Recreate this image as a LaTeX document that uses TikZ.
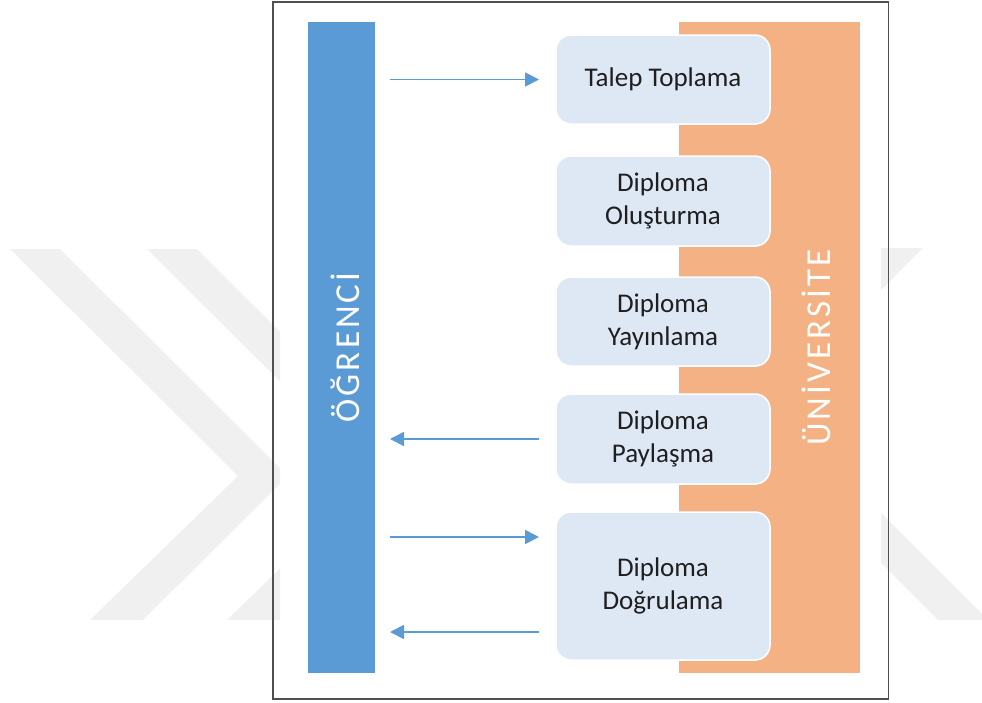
\documentclass[tikz,border=0pt]{standalone}
\usepackage{fontspec}
\setmainfont{Carlito}
\newfontfamily\sidefont[LetterSpace=9]{Carlito}
\usetikzlibrary{arrows.meta}
\definecolor{barblue}{HTML}{5B9BD5}
\definecolor{barorange}{HTML}{F4B183}
\definecolor{stepfill}{HTML}{DEE8F5}
\definecolor{markgray}{HTML}{F0F0F0}
\definecolor{framegray}{HTML}{505050}

\begin{document}
\begin{tikzpicture}[x=1pt,y=-1pt,
  bar/.style={inner sep=0pt, outer sep=0pt, minimum width=#1, minimum height=651pt},
  stepbox/.style={rounded corners=15pt, fill=stepfill, draw=white, line width=1.5pt,
    minimum width=214pt, align=center, inner sep=0pt, outer sep=0pt,
    font=\fontsize{27}{33}\selectfont, text=black!88},
  sidelabel/.style={rotate=90, text=white, inner sep=0pt,
    font=\sidefont\fontsize{35}{35}\selectfont},
  flow/.style={draw=barblue, line width=1.8pt, -{Triangle[length=14pt,width=14pt]}},
  mark/.style={fill=markgray, draw=none}
]
\useasboundingbox (0,0) rectangle (982,702);

% faint background emblem around the frame
\begin{scope}
  \clip (0,0) rectangle (280,702);
  \foreach \dx in {0,137} {
    \fill[markgray, shift={(\dx,0)}]
      (10,249) -- (60,249) -- (288,476) -- (143,620) -- (90,620) -- (238,476) -- cycle;
  }
\end{scope}
\begin{scope}
  \clip (881,0) rectangle (982,702);
  \fill[markgray] (873,248) -- (923,248) -- (823,348) -- (773,348) -- cycle;
  \fill[markgray] (800,432) -- (1000,632) -- (1000,620) -- (938,620) -- (750,432) -- cycle;
\end{scope}

% outer frame
\node[draw=framegray, line width=1.2pt, minimum width=615.5pt, minimum height=697pt,
  inner sep=0pt] (frame) at (580.75,350.5) {};

% actor bars
\node[bar=67pt, fill=barblue] (ogr) at (341.5,347.5) {};
\node[bar=181pt, fill=barorange] (uni) at (769.5,347.5) {};

% process steps
\node[stepbox, minimum height=89pt] (t1) at (663,79.5) {Talep Toplama};
\node[stepbox, minimum height=90pt] (t2) at (663,201) {Diploma\\Oluşturma};
\node[stepbox, minimum height=89pt] (t3) at (663,321.5) {Diploma\\Yayınlama};
\node[stepbox, minimum height=90pt] (t4) at (663,439) {Diploma\\Paylaşma};
\node[stepbox, minimum height=148pt] (t5) at (663,586) {Diploma\\Doğrulama};

% bar labels
\node[sidelabel] (ogrlabel) at (345,347.5) {ÖĞRENCİ};
\node[sidelabel] (unilabel) at (816,347.5) {ÜNİVERSİTE};

% message arrows
\path (t5.west) ++(0,-49) coordinate (q1) ++(0,95) coordinate (q2);
\draw[flow, shorten <=15pt, shorten >=17pt] (ogr.east |- t1.west) -- (t1.west);
\draw[flow, shorten <=17pt, shorten >=15pt] (t4.west) -- (ogr.east |- t4.west);
\draw[flow, shorten <=15pt, shorten >=17pt] (ogr.east |- q1) -- (q1);
\draw[flow, shorten <=17pt, shorten >=15pt] (q2) -- (ogr.east |- q2);
\end{tikzpicture}
\end{document}
